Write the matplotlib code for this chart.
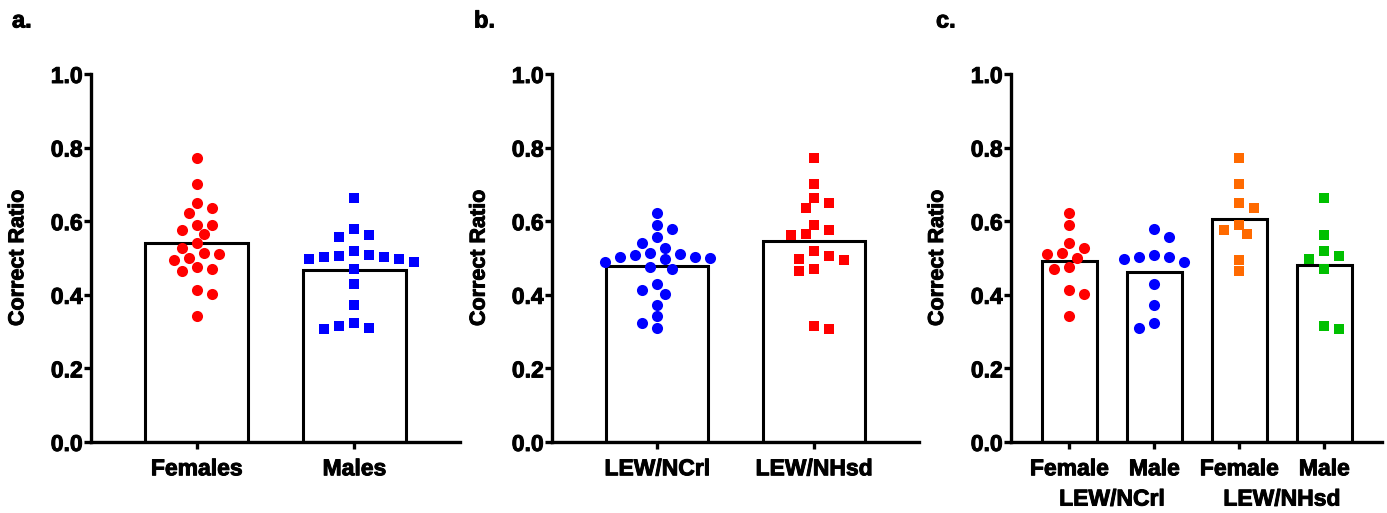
import matplotlib
matplotlib.use("Agg")
import matplotlib.pyplot as plt
import matplotlib.transforms as mtransforms
import matplotlib.patheffects as pe
import numpy as np

plt.rcParams['font.family'] = ['Liberation Sans', 'DejaVu Sans']
plt.rcParams['font.weight'] = 'bold'

# correct ratio per animal, split by strain and sex
ncrl_female = [0.621, 0.591, 0.541, 0.528, 0.514, 0.510, 0.500, 0.475, 0.469, 0.412, 0.401, 0.343]
ncrl_male = [0.578, 0.557, 0.490, 0.507, 0.502, 0.502, 0.496, 0.430, 0.373, 0.311, 0.323]
nhsd_female = [0.773, 0.702, 0.637, 0.650, 0.591, 0.575, 0.566, 0.494, 0.464]
nhsd_male = [0.664, 0.562, 0.518, 0.505, 0.498, 0.469, 0.307, 0.314]

sex_labels = ["Females", "Males"]
strain_labels = ["LEW/NCrl", "LEW/NHsd"]
sub_labels = ["Female", "Male", "Female", "Male"]

RED, BLUE, ORANGE, GREEN = "#ff0000", "#0000ff", "#ff6a00", "#00c000"

W, H = 1387, 513
Y_TOP, Y_BOT = 74, 442
fig = plt.figure(figsize=(W / 100, H / 100), dpi=100)

thick = [pe.withStroke(linewidth=0.7, foreground="black")]


def add_axes(x0, x1):
    return fig.add_axes([x0 / W, (H - Y_BOT) / H, (x1 - x0) / W, (Y_BOT - Y_TOP) / H])


def swarm_offsets(vals, px_x, px_y, diam=11.0, step=7.5):
    # greedy beeswarm in pixel space, alternating sides to keep it centred
    vals = np.asarray(vals, dtype=float)
    ys = vals * px_y
    placed = []
    offs = np.zeros(len(vals))
    side = 1
    for i in np.argsort(-vals):
        cands = [0.0]
        for k in range(1, 16):
            cands += [side * k * step, -side * k * step]
        for c in cands:
            if all((c - px) ** 2 + (ys[i] - py) ** 2 >= diam ** 2 for px, py in placed):
                break
        if c != 0:
            side = -np.sign(c)
        placed.append((c, ys[i]))
        offs[i] = c / px_x
    return offs


def style_axes(ax, xlim, n):
    ax.set_xlim(*xlim)
    ax.set_ylim(0, 1.0)
    ticks = np.arange(0, 1.01, 0.2)
    ax.set_yticks(ticks)
    ax.set_yticklabels([f"{v:.1f}" for v in ticks])
    for s in ["top", "right"]:
        ax.spines[s].set_visible(False)
    for s in ["left", "bottom"]:
        ax.spines[s].set_linewidth(2.4)
    ax.tick_params(axis="y", length=5, width=2.4, labelsize=16.5, pad=1)
    ax.tick_params(axis="x", length=5, width=2.4, labelsize=16.5, pad=6)
    ax.set_xticks(range(n))
    ax.set_ylabel("Correct Ratio", fontsize=15.5, fontweight="bold", path_effects=thick)
    ax.yaxis.set_label_coords(-0.17, 0.5)
    for t in ax.get_xticklabels() + ax.get_yticklabels():
        t.set_path_effects(thick)


def draw_groups(ax, groups, colors, markers, width, xlim, ax_px):
    px_x = ax_px / (xlim[1] - xlim[0])
    px_y = Y_BOT - Y_TOP
    for i, (vals, c, m) in enumerate(zip(groups, colors, markers)):
        ax.bar(i, np.mean(vals), width=width, color="white", edgecolor="black",
               linewidth=2.2, zorder=1)
        offs = swarm_offsets(vals, px_x, px_y)
        ax.scatter(i + offs, vals, s=64 if m == "o" else 56, marker=m, color=c,
                   linewidths=0, zorder=3)


# panel a
xa = (-0.67, 1.67)
ax_a = add_axes(91, 460)
draw_groups(ax_a, [ncrl_female + nhsd_female, ncrl_male + nhsd_male],
            [RED, BLUE], ["o", "s"], 0.655, xa, 369)
ax_a.set_xticks(range(2))
ax_a.set_xticklabels(sex_labels)
style_axes(ax_a, xa, 2)

# panel b
ax_b = add_axes(552, 919)
draw_groups(ax_b, [ncrl_female + ncrl_male, nhsd_female + nhsd_male],
            [BLUE, RED], ["o", "s"], 0.655, xa, 367)
ax_b.set_xticks(range(2))
ax_b.set_xticklabels(strain_labels)
style_axes(ax_b, xa, 2)

# panel c
xc = (-0.686, 3.68)
ax_c = add_axes(1011, 1382)
draw_groups(ax_c, [ncrl_female, ncrl_male, nhsd_female, nhsd_male],
            [RED, BLUE, ORANGE, GREEN], ["o", "o", "s", "s"], 0.647, xc, 371)
ax_c.set_xticks(range(4))
ax_c.set_xticklabels(sub_labels)
style_axes(ax_c, xc, 4)
trans = mtransforms.blended_transform_factory(ax_c.transData, ax_c.transAxes)
for k, lab in enumerate(strain_labels):
    ax_c.text(2 * k + 0.5, -0.155, lab, transform=trans, ha="center", va="center",
              fontsize=16.5, fontweight="bold", path_effects=thick)

for lab, x in zip(["a.", "b.", "c."], [12, 474, 936]):
    fig.text(x / W, 1 - 21 / H, lab, fontsize=17, fontweight="bold", va="center",
             ha="left", path_effects=thick)

fig.savefig("out.png", dpi=100)
